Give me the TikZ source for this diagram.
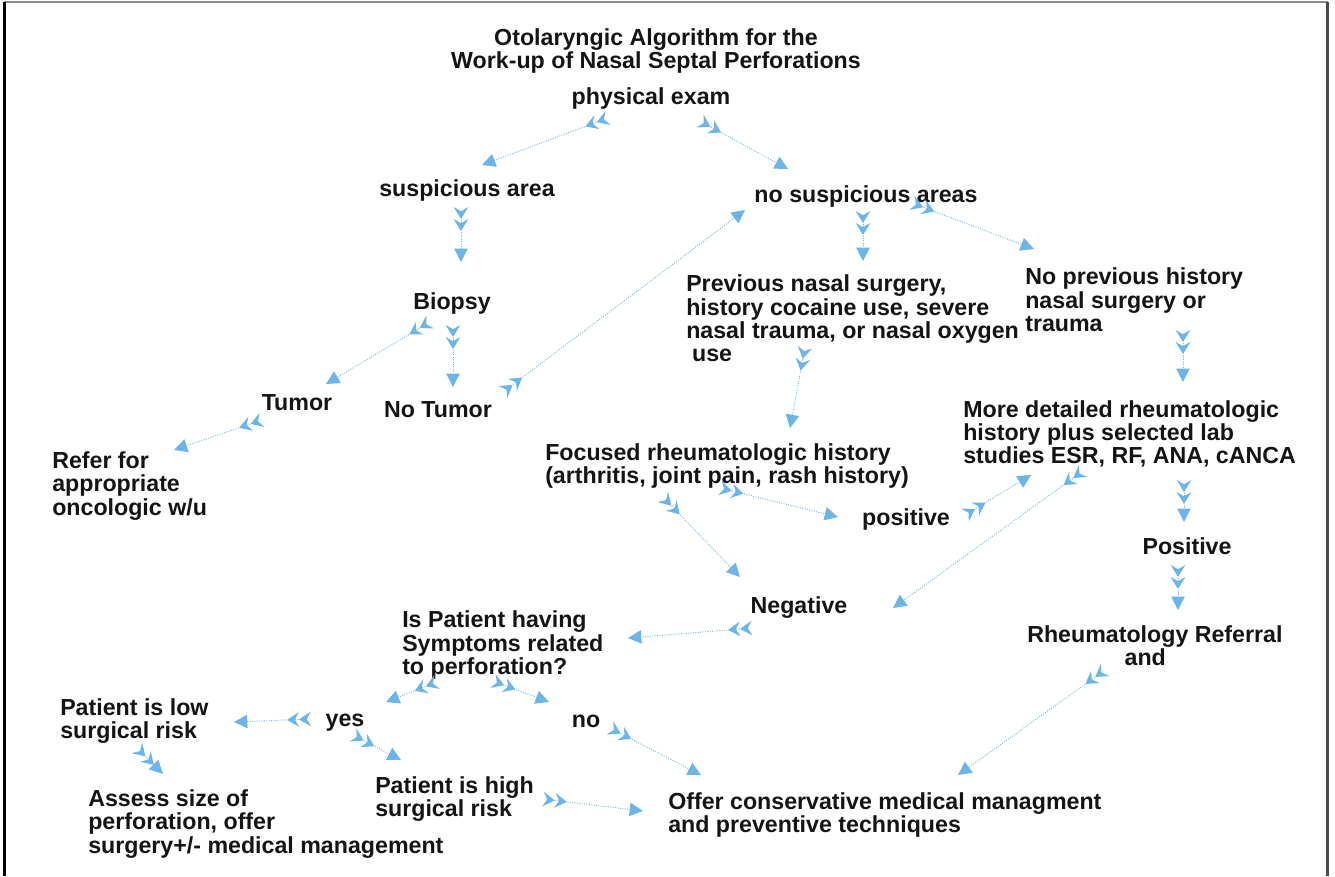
\documentclass[tikz,border=0pt]{standalone}
\usepackage{fontspec}
\setmainfont{Liberation Sans}
\usetikzlibrary{arrows.meta}
\definecolor{arr}{HTML}{6DB5E8}
\definecolor{txt}{HTML}{141414}
\tikzset{
  fletch/.tip={Stealth[reversed,length=9pt,width=11pt,inset=3.2pt,line width=1.1pt,sep=0pt]Stealth[reversed,length=9pt,width=11pt,inset=3.2pt,line width=1.1pt]},
  headtri/.tip={Triangle[length=10pt,width=10pt,line width=0.8pt]}
}
\begin{document}
\begin{tikzpicture}[x=0.75pt,y=-0.75pt,
  lbl/.style={inner sep=0pt, font=\fontsize{17.4}{17.5}\selectfont\bfseries, text=txt},
  lft/.style={lbl, anchor=west, align=left},
  ctr/.style={lbl, anchor=center, align=center},
  conn/.style={draw=arr, line width=0.7pt, dash pattern=on 0.7pt off 1.1pt, fletch-headtri}]
\useasboundingbox (0,0) rectangle (1335,876);
% frame
\draw[line width=1.6pt, draw=black!45] (4,2) -- (1328,2);
\draw[line width=1.6pt, draw=black] (4.5,1.5) -- (4.5,876);
\draw[line width=1.6pt, draw=black!70] (1327.5,1.5) -- (1327.5,876);

% nodes
\node[ctr] (title) at (656,51) {Otolaryngic Algorithm for the\\Work-up of Nasal Septal Perforations};
\node[ctr] (pe) at (651,98) {physical exam};
\node[ctr] (sa) at (467,190) {suspicious area};
\node[ctr] (nsa) at (866,196) {no suspicious areas};
\node[ctr] (bio) at (452,303) {Biopsy};
\node[lft] (prev) at (686,318.5) {Previous nasal surgery,\\history cocaine use, severe\\nasal trauma, or nasal oxygen\\\hspace*{0.25em}use};
\node[lft] (nph) at (1025,300) {No previous history\\nasal surgery or\\trauma};
\node[ctr] (tum) at (297,403) {Tumor};
\node[ctr] (nt) at (438,410) {No Tumor};
\node[lft] (ref) at (52,486) {Refer for\\appropriate\\oncologic w/u};
\node[lft] (more) at (963,434) {More detailed rheumatologic\\history plus selected lab\\studies ESR, RF, ANA, cANCA};
\node[lft] (foc) at (545,466) {Focused rheumatologic history\\(arthritis, joint pain, rash history)};
\node[ctr] (pos1) at (906,519) {positive};
\node[ctr] (pos2) at (1187,546) {Positive};
\node[ctr] (neg) at (799,608) {Negative};
\node[lft] (isp) at (402,645) {Is Patient having\\Symptoms related\\to perforation?};
\node[lft] (rr) at (1027,646) {Rheumatology Referral\\\hspace*{73pt}and};
\node[lft] (low) at (60,721) {Patient is low\\surgical risk};
\node[ctr] (yes) at (345,723) {yes};
\node[ctr] (no) at (586,721) {no};
\node[lft] (assess) at (88,824) {Assess size of\\perforation, offer\\surgery+/- medical management};
\node[lft] (high) at (375,799) {Patient is high\\surgical risk};
\node[lft] (offer) at (668,815) {Offer conservative medical managment\\and preventive techniques};

% connectors
\draw[conn] ([shift={(-43,20)}]pe.center) -- ([shift={(15,-25)}]sa.center);
\draw[conn] ([shift={(49,23)}]pe.center) -- ([shift={(-78,-27)}]nsa.center);
\draw[conn] ([shift={(-6,17)}]sa.center) -- ([shift={(9,-41)}]bio.center);
\draw[conn] ([shift={(-3,15)}]nsa.center) -- ([shift={(177,-57.5)}]prev.west);
\draw[conn] ([shift={(46,7)}]nsa.center) -- ([shift={(9,-51)}]nph.west);
\draw[conn] ([shift={(65,-18)}]nt.center) -- ([shift={(-121,14)}]nsa.center);
\draw[conn] ([shift={(-22,19)}]bio.center) -- ([shift={(29,-19)}]tum.center);
\draw[conn] ([shift={(1,22)}]bio.center) -- ([shift={(15,-23)}]nt.center);
\draw[conn] ([shift={(-35,17)}]tum.center) -- ([shift={(122,-36)}]ref.west);
\draw[conn] ([shift={(119,28.5)}]prev.west) -- ([shift={(245,-38)}]foc.west);
\draw[conn] ([shift={(158,30)}]nph.west) -- ([shift={(220,-52)}]more.west);
\draw[conn] ([shift={(175,22)}]foc.west) -- ([shift={(-68,-2)}]pos1.center);
\draw[conn] ([shift={(59,-4)}]pos1.center) -- ([shift={(68,41)}]more.west);
\draw[conn] ([shift={(118,31)}]foc.west) -- ([shift={(-59,-31)}]neg.center);
\draw[conn] ([shift={(120,37)}]more.west) -- ([shift={(94,0)}]neg.center);
\draw[conn] ([shift={(221,46)}]more.west) -- ([shift={(-3,-24)}]pos2.center);
\draw[conn] ([shift={(-9,19)}]pos2.center) -- ([shift={(151,-36)}]rr.west);
\draw[conn] ([shift={(-47,20)}]neg.center) -- ([shift={(226,-7)}]isp.west);
\draw[conn] ([shift={(78,24)}]rr.west) -- ([shift={(290,-40)}]offer.west);
\draw[conn] ([shift={(35,37)}]isp.west) -- ([shift={(41,-21)}]yes.center);
\draw[conn] ([shift={(91,36)}]isp.west) -- ([shift={(-37,-19)}]no.center);
\draw[conn] ([shift={(-34,-4)}]yes.center) -- ([shift={(174,1)}]low.west);
\draw[conn] ([shift={(8,12)}]yes.center) -- ([shift={(26,-39)}]high.west);
\draw[conn] ([shift={(24,7)}]no.center) -- ([shift={(33,-40)}]offer.west);
\draw[conn] ([shift={(168,0)}]high.west) -- ([shift={(-25,-4)}]offer.west);
\draw[conn] ([shift={(77,27)}]low.west) -- ([shift={(75,-50)}]assess.west);
\end{tikzpicture}
\end{document}
